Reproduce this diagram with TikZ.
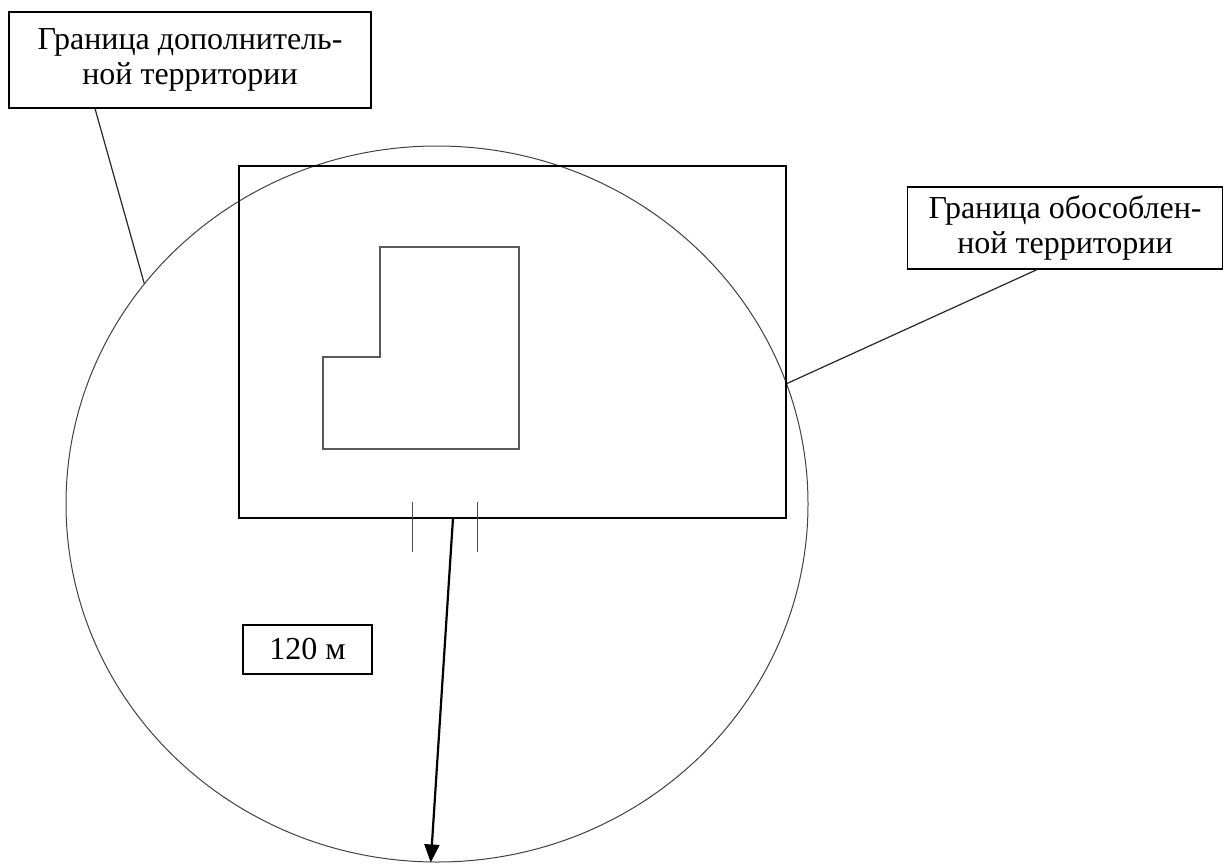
\documentclass[tikz,border=0pt]{standalone}
\usepackage{fontspec}
\setmainfont{Liberation Serif}
\usetikzlibrary{positioning, arrows.meta, shapes.geometric}
\tikzset{Label style/.style={draw=black, line width=1.2pt, rectangle, align=center, inner sep=0pt, font=\fontsize{32}{35}\selectfont}}
\tikzset{
	Frame style/.style={draw=black, line width=1.1pt}, % Contorno de la territoria
	Zone style/.style={draw=black!75, line width=1pt, ellipse, inner sep=0pt}, % Circulo de 120 m
	Building style/.style={draw=black!65, line width=1.2pt}, % Edificio
	Leader style/.style={draw=black!85, line width=1.2pt}, % Lineas de los textos
}

\begin{document}
\begin{tikzpicture}[x=1pt, y=-1pt]
        \useasboundingbox (0,0) rectangle (1225,864);

        \node[Zone style, minimum width=742pt, minimum height=716pt] (zone) at (437,504) {};
        \node[Frame style, rectangle, minimum width=547pt, minimum height=352pt] (plot) at (512.5,342) {};

        \draw[Building style] (323,357) -- (380,357) -- (380,247) -- (519,247) -- (519,449) -- (323,449) -- cycle;

        % vorota
        \draw[draw=black!70, line width=1pt] (412,502) -- (412,552)
              (477,502) -- (477,552);

        \node[Label style, minimum width=362pt, minimum height=96pt] (extra_label) at (190,60) {Граница дополнитель-\\ной территории};
        \node[Label style, minimum width=315pt, minimum height=82pt] (plot_label) at (1065,228) {Граница обособлен-\\ной территории};
        \node[Label style, minimum width=129pt, minimum height=49pt] (radius_label) at (307.5,649.5) {120 м};

        \coordinate (gate) at (453,518);

        \draw[Leader style] ([xshift=-95pt]extra_label.south) -- (zone.143.7);
        \draw[Leader style] ([xshift=-28pt]plot_label.south) -- (zone.19.4);
        \draw[line width=2.2pt, -{Triangle[length=18pt, width=15pt]}] (gate) -- (zone.269);
\end{tikzpicture}
\end{document}
